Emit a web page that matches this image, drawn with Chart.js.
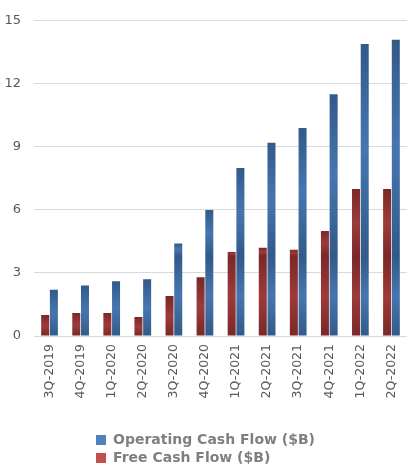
<!DOCTYPE html>
<html>
<head>
<meta charset="utf-8">
<script src="https://cdn.jsdelivr.net/npm/chart.js@4"></script>
<style>
  html, body { margin: 0; padding: 0; background: #ffffff; }
  #wrap { width: 408px; height: 475px; position: relative; }
</style>
</head>
<body>
<div id="wrap"><canvas id="c"></canvas></div>
<script>
const categories = ['3Q-2019','4Q-2019','1Q-2020','2Q-2020','3Q-2020','4Q-2020','1Q-2021','2Q-2021','3Q-2021','4Q-2021','1Q-2022','2Q-2022'];
const operatingCashFlow = [2.2, 2.4, 2.6, 2.7, 4.4, 6.0, 8.0, 9.2, 9.9, 11.5, 13.9, 14.1];
const freeCashFlow = [1.0, 1.1, 1.1, 0.9, 1.9, 2.8, 4.0, 4.2, 4.1, 5.0, 7.0, 7.0];
const yTicks = [0, 3, 6, 9, 12, 15];
const seriesNames = ['Operating Cash Flow ($B)', 'Free Cash Flow ($B)'];

const FLAT = ['#c0504d', '#4f81bd'];

function barGradient(flat, dark, light) {
  return function (ctx) {
    if (ctx.type !== 'data') return flat;
    const chart = ctx.chart;
    if (!chart.chartArea || !ctx.parsed) return flat;
    const ys = chart.scales.y;
    const v = ctx.parsed.y;
    const top = ys.getPixelForValue(v);
    const bot = ys.getPixelForValue(0);
    if (!isFinite(top) || bot - top < 2) return flat;
    const g = chart.ctx.createLinearGradient(0, top, 0, bot);
    const split = 3.8;
    if (v > split + 0.05) {
      const sp = ys.getPixelForValue(split);
      const f = (sp - top) / (bot - top);
      g.addColorStop(0, dark);
      g.addColorStop(f * 0.5, light);
      g.addColorStop(Math.max(0, f - 0.001), dark);
      g.addColorStop(f, dark);
      g.addColorStop(f + (1 - f) * 0.5, light);
      g.addColorStop(1, dark);
    } else {
      g.addColorStop(0, dark);
      g.addColorStop(0.5, light);
      g.addColorStop(1, dark);
    }
    return g;
  };
}

// Legend: two stacked rows, left-aligned at the same x
const legendLayout = {
  id: 'legendLayout',
  beforeLayout(chart) {
    const lg = chart.legend;
    if (lg && !lg._twoRows) {
      const origFit = lg.fit.bind(lg);
      lg.fit = function () {
        origFit();
        const lo = this.options.labels;
        const lh = Math.max(lo.font.size, lo.boxHeight) + lo.padding;
        if (this.lineWidths && this.lineWidths.length < 2) this.height += lh;
      };
      lg._twoRows = true;
    }
  },
  afterLayout(chart) {
    const lg = chart.legend;
    if (lg) lg.left = 96 - lg.options.labels.padding;
  }
};

new Chart(document.getElementById('c'), {
  type: 'bar',
  data: {
    labels: categories,
    datasets: [
      {
        label: seriesNames[1],
        data: freeCashFlow,
        backgroundColor: barGradient(FLAT[0], '#7a2828', '#9c3b39'),
        borderWidth: 0,
        categoryPercentage: 0.56,
        barPercentage: 0.92
      },
      {
        label: seriesNames[0],
        data: operatingCashFlow,
        backgroundColor: barGradient(FLAT[1], '#325a89', '#4676b0'),
        borderWidth: 0,
        categoryPercentage: 0.56,
        barPercentage: 0.92
      }
    ]
  },
  options: {
    responsive: true,
    maintainAspectRatio: false,
    animation: false,
    devicePixelRatio: 1,
    layout: { padding: { top: 8, right: 1, bottom: 0, left: 0 } },
    plugins: {
      tooltip: { enabled: false },
      legend: {
        display: true,
        position: 'bottom',
        align: 'start',
        reverse: true,
        labels: {
          boxWidth: 10,
          boxHeight: 10,
          padding: 4,
          color: '#7f7f7f',
          font: { family: "'DejaVu Sans', sans-serif", size: 14, weight: 'bold' },
          generateLabels(chart) {
            const items = Chart.defaults.plugins.legend.labels.generateLabels(chart);
            items.forEach(it => {
              it.fillStyle = FLAT[it.datasetIndex];
              it.strokeStyle = FLAT[it.datasetIndex];
              it.lineWidth = 0;
            });
            return items;
          }
        }
      }
    },
    scales: {
      x: {
        grid: { display: false, drawTicks: false },
        border: { display: false },
        afterFit(scale) {
          scale.height = 93;
          scale.paddingLeft = 0;
          scale.paddingRight = 0;
        },
        ticks: {
          minRotation: 90,
          maxRotation: 90,
          autoSkip: false,
          padding: 8,
          color: '#595959',
          font: { family: "'DejaVu Sans', sans-serif", size: 12.5 }
        }
      },
      y: {
        min: 0,
        max: 15,
        afterBuildTicks(axis) { axis.ticks = yTicks.map(v => ({ value: v })); },
        afterFit(scale) { scale.width = 34; },
        grid: { color: '#d9d9d9', lineWidth: 1, drawTicks: false },
        border: { display: false },
        ticks: {
          padding: 13,
          color: '#595959',
          font: { family: "'DejaVu Sans', sans-serif", size: 13 }
        }
      }
    }
  },
  plugins: [legendLayout]
});
</script>
</body>
</html>
